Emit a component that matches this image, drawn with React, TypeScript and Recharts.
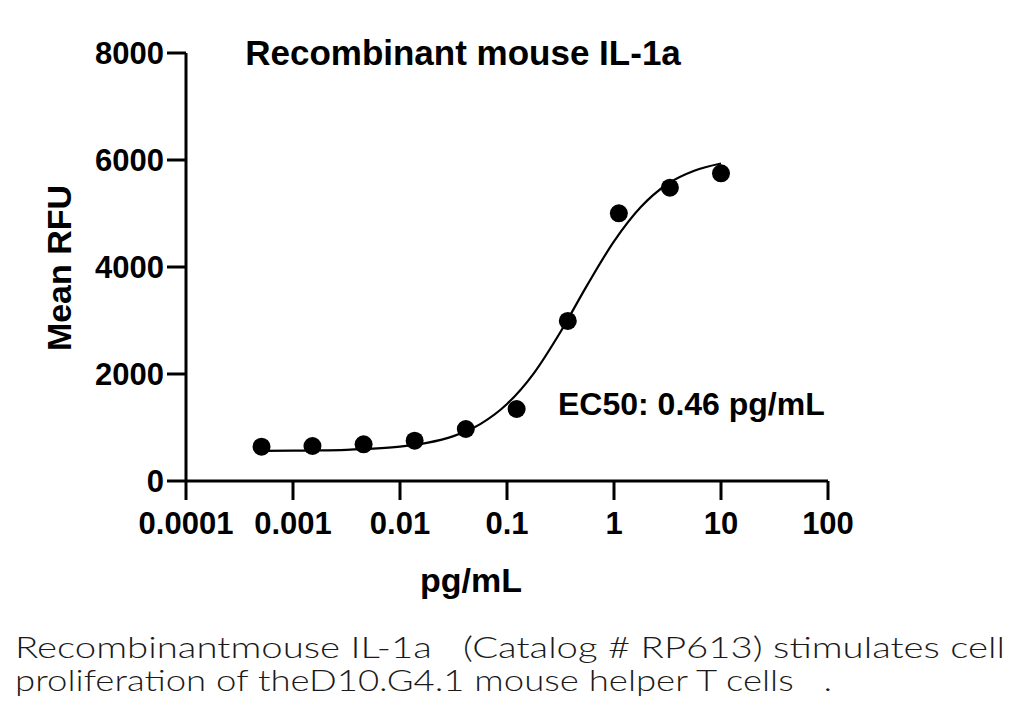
import React from "react";
import { ComposedChart, Line, Scatter, XAxis, YAxis, Customized } from "recharts";

// measured responses (mean RFU) for the 3-fold dilution series
const doses = [0.000508, 0.00152, 0.00457, 0.0137, 0.0412, 0.123, 0.37, 1.11, 3.33, 10];
const meanRfu = [641, 654, 686, 754, 972, 1346, 2991, 5004, 5482, 5751];

// fitted dose-response curve, sampled every quarter decade
const fitDoses = [0.000508, 0.001, 0.00178, 0.00316, 0.00562, 0.01, 0.0178, 0.0316, 0.0562, 0.1, 0.178, 0.316, 0.562, 1, 1.78, 3.16, 5.62, 10];
const fitRfu = [563, 567, 572, 583, 604, 642, 712, 839, 1064, 1439, 2013, 2785, 3662, 4479, 5121, 5552, 5800, 5935];

const xTicks = [0.0001, 0.001, 0.01, 0.1, 1, 10, 100];
const xTickLabels = ["0.0001", "0.001", "0.01", "0.1", "1", "10", "100"];
const yTicks = [0, 2000, 4000, 6000, 8000];

const title = "Recombinant mouse IL-1a";
const ec50Label = "EC50: 0.46 pg/mL";
const captionLines = [
  "Recombinantmouse IL-1a   (Catalog # RP613) stimulates cell",
  "proliferation of theD10.G4.1 mouse helper T cells   .",
];

const pointData = doses.map((x, i) => ({ x, y: meanRfu[i] }));
const fitData = fitDoses.map((x, i) => ({ x, y: fitRfu[i] }));

const FONT = "'Liberation Sans', Arial, Helvetica, sans-serif";
const axisStyle = { stroke: "#000", strokeWidth: 3 };
const tickStyle = { fill: "#000", fontSize: 31, fontWeight: 700, fontFamily: FONT };

function Annotations() {
  return (
    <g fontFamily={FONT} fontWeight={700} fill="#000">
      <text x={463} y={65} fontSize={35} textAnchor="middle">{title}</text>
      <text x={558} y={415} fontSize={32}>{ec50Label}</text>
      <text x={471} y={592} fontSize={34} textAnchor="middle">pg/mL</text>
      <text x={71} y={268} fontSize={34} textAnchor="middle" transform="rotate(-90 71 268)">
        Mean RFU
      </text>
    </g>
  );
}

function Dot(props: any) {
  const { cx, cy } = props;
  if (cx == null || cy == null) return null;
  return <circle cx={cx} cy={cy} r={9} fill="#000" />;
}

export default function App() {
  return (
    <div style={{ position: "absolute", left: 0, top: 0, width: 1024, height: 721, background: "#fff" }}>
      <ComposedChart
        width={1024}
        height={600}
        margin={{ top: 53, right: 196, left: 0, bottom: 59 }}
      >
        <XAxis
          dataKey="x"
          type="number"
          scale="log"
          domain={[0.0001, 100]}
          ticks={xTicks}
          tickFormatter={(v: number) => xTickLabels[xTicks.indexOf(v)] ?? String(v)}
          interval={0}
          height={60}
          tickSize={19}
          tickMargin={12}
          axisLine={axisStyle}
          tickLine={axisStyle}
          tick={tickStyle}
        />
        <YAxis
          dataKey="y"
          type="number"
          domain={[0, 8000]}
          ticks={yTicks}
          interval={0}
          width={186}
          tickSize={19}
          tickMargin={3}
          axisLine={axisStyle}
          tickLine={axisStyle}
          tick={tickStyle}
        />
        <Line
          data={fitData}
          dataKey="y"
          type="monotone"
          stroke="#000"
          strokeWidth={2.2}
          dot={false}
          activeDot={false}
          isAnimationActive={false}
        />
        <Scatter data={pointData} dataKey="y" shape={<Dot />} isAnimationActive={false} />
        <Customized component={Annotations} />
      </ComposedChart>
      <svg width={1024} height={121} style={{ display: "block" }}>
        <g fontFamily="Lato, 'Noto Sans', sans-serif" fontWeight={300} fill="#1a1a1a" fontSize={29}>
          <text x={15} y={58} textLength={990} lengthAdjust="spacingAndGlyphs" style={{ whiteSpace: "pre" }}>
            {captionLines[0]}
          </text>
          <text x={15} y={91} textLength={817} lengthAdjust="spacingAndGlyphs" style={{ whiteSpace: "pre" }}>
            {captionLines[1]}
          </text>
        </g>
      </svg>
    </div>
  );
}
